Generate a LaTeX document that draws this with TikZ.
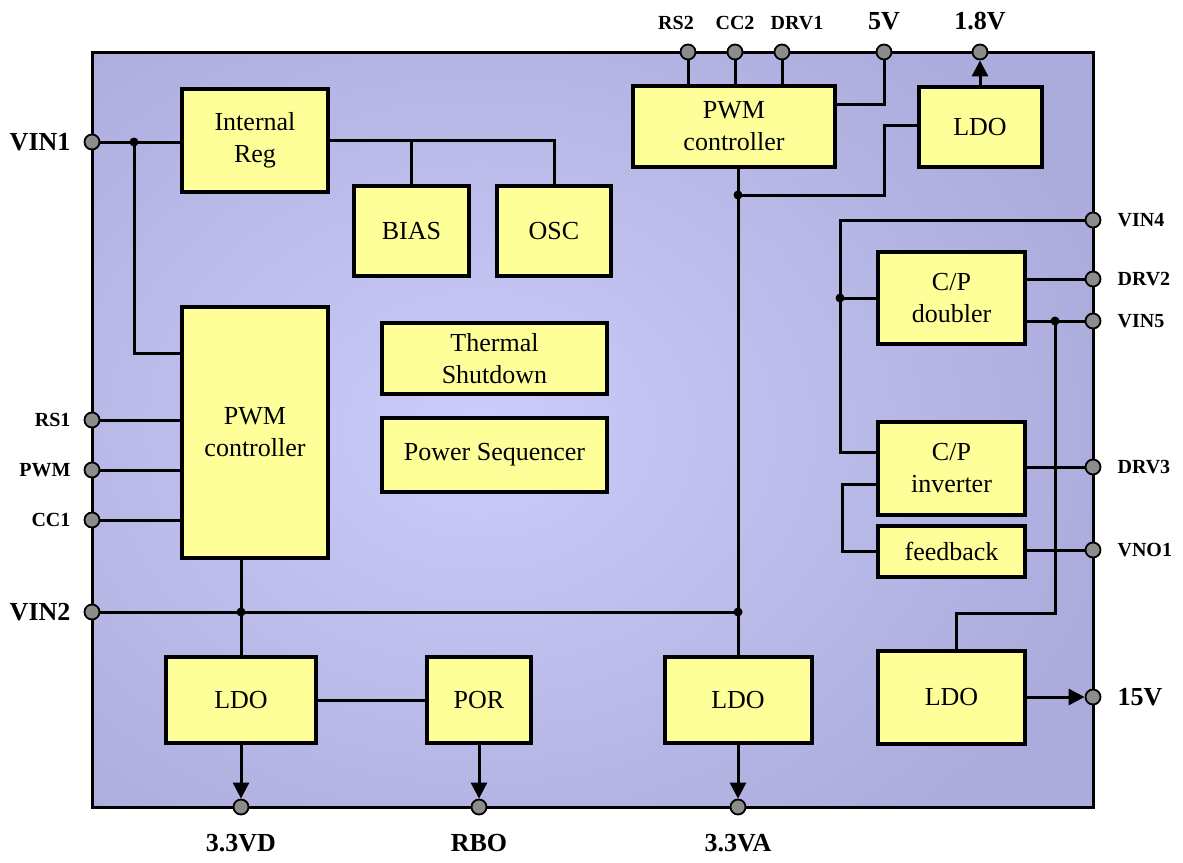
\documentclass[tikz,border=0pt]{standalone}
\usepackage{fontspec}
\setmainfont{Liberation Serif}
\usetikzlibrary{positioning,arrows.meta}

\definecolor{chipedge}{RGB}{172,172,220}
\definecolor{chipmid}{RGB}{204,204,250}
\definecolor{blkfill}{RGB}{255,255,153}
\definecolor{pingray}{RGB}{140,140,140}

\tikzset{
	blk/.style={draw, fill=blkfill, line width=4pt, inner sep=0pt, align=center, font=\fontsize{26}{32}\selectfont},
	pinc/.style={circle, draw, fill=pingray, line width=1.8pt, minimum size=15pt, inner sep=0pt},
	jdot/.style={circle, fill=black, minimum size=9pt, inner sep=0pt},
	wire/.style={line width=3pt},
	arr/.style={wire, -{Triangle[length=16pt,width=16pt]}},
	bigl/.style={font=\bfseries\fontsize{26}{30}\selectfont, inner sep=0pt},
	smll/.style={font=\bfseries\fontsize{20}{24}\selectfont, inner sep=0pt},
}

\begin{document}
\begin{tikzpicture}[x=1pt,y=-1pt]
			\useasboundingbox (0,0) rectangle (1183,862);
			% chip body
			\begin{scope}
				\clip (92,52) rectangle (1093,807);
				\shade[inner color=chipmid, outer color=chipedge] (-170,-90) rectangle (1130,950);
			\end{scope}
			\draw [wire] (92,52) rectangle (1093,807);
			% blocks
			\node [blk, minimum width=146pt, minimum height=103pt] (ireg) at (255,140) {Internal\\Reg};
			\node [blk, minimum width=115pt, minimum height=90pt] (bias) at (411.5,231) {BIAS};
			\node [blk, minimum width=114pt, minimum height=90pt] (osc) at (554,231) {OSC};
			\node [blk, minimum width=146pt, minimum height=251pt] (pwml) at (255,432) {PWM\\controller};
			\node [blk, minimum width=225pt, minimum height=71pt] (therm) at (494.5,358.5) {Thermal\\Shutdown};
			\node [blk, minimum width=225pt, minimum height=74pt] (pseq) at (494.5,455) {Power Sequencer};
			\node [blk, minimum width=202pt, minimum height=81pt] (pwmt) at (734,126.5) {PWM\\controller};
			\node [blk, minimum width=123pt, minimum height=80pt] (ldot) at (980,127) {LDO};
			\node [blk, minimum width=147pt, minimum height=92pt] (cpd) at (951.5,298) {C/P\\doubler};
			\node [blk, minimum width=147pt, minimum height=93pt] (cpi) at (951.5,468.5) {C/P\\inverter};
			\node [blk, minimum width=147pt, minimum height=51pt] (fdbk) at (951.5,551.5) {feedback};
			\node [blk, minimum width=147pt, minimum height=93pt] (ldor) at (951.5,697) {LDO};
			\node [blk, minimum width=150pt, minimum height=86pt] (ldol) at (241,700) {LDO};
			\node [blk, minimum width=104pt, minimum height=86pt] (por) at (479,700) {POR};
			\node [blk, minimum width=147pt, minimum height=86pt] (ldom) at (738,700) {LDO};
			% pins, left side
			\node [pinc] (pvin1) at (92,142) {};
			\node [pinc] (prs1) at (92,420) {};
			\node [pinc] (ppwm) at (92,470) {};
			\node [pinc] (pcc1) at (92,520) {};
			\node [pinc] (pvin2) at (92,612) {};
			% pins, top side
			\node [pinc] (prs2) at (688,52) {};
			\node [pinc] (pcc2) at (735,52) {};
			\node [pinc] (pdrv1) at (782,52) {};
			\node [pinc] (p5v) at (884,52) {};
			\node [pinc] (p18v) at (980,52) {};
			% pins, right side
			\node [pinc] (pvin4) at (1093,220) {};
			\node [pinc] (pdrv2) at (1093,279) {};
			\node [pinc] (pvin5) at (1093,321) {};
			\node [pinc] (pdrv3) at (1093,467) {};
			\node [pinc] (pvno1) at (1093,550) {};
			\node [pinc] (p15v) at (1093,697) {};
			% pins, bottom side
			\node [pinc] (p33vd) at (241,807) {};
			\node [pinc] (prbo) at (479,807) {};
			\node [pinc] (p33va) at (738,807) {};
			% pin labels
			\node [bigl, left=13pt of pvin1] (tvin1) {VIN1};
			\node [smll, left=13pt of prs1] (trs1) {RS1};
			\node [smll, left=13pt of ppwm] (tpwm) {PWM};
			\node [smll, left=13pt of pcc1] (tcc1) {CC1};
			\node [bigl, left=13pt of pvin2] (tvin2) {VIN2};
			\node [smll, above=14pt of prs2, xshift=-12pt] (trs2) {RS2};
			\node [smll, above=14pt of pcc2] (tcc2) {CC2};
			\node [smll, above=14pt of pdrv1, xshift=15pt] (tdrv1) {DRV1};
			\node [bigl, above=14pt of p5v] (t5v) {5V};
			\node [bigl, above=14pt of p18v] (t18v) {1.8V};
			\node [smll, right=16pt of pvin4] (tvin4) {VIN4};
			\node [smll, right=16pt of pdrv2] (tdrv2) {DRV2};
			\node [smll, right=16pt of pvin5] (tvin5) {VIN5};
			\node [smll, right=16pt of pdrv3] (tdrv3) {DRV3};
			\node [smll, right=16pt of pvno1] (tvno1) {VNO1};
			\node [bigl, right=16pt of p15v] (t15v) {15V};
			\node [bigl, below=19pt of p33vd] (t33vd) {3.3VD};
			\node [bigl, below=19pt of prbo] (trbo) {RBO};
			\node [bigl, below=19pt of p33va] (t33va) {3.3VA};
			% junctions
			\node [jdot] (ja) at (134,142) {};
			\node [jdot] (jb) at (241,612) {};
			\node [jdot] (jc) at (738,612) {};
			\node [jdot] (jd) at (738,195) {};
			\node [jdot] (je) at (840,298) {};
			\node [jdot] (jf) at (1055,321) {};
			\coordinate (kreg) at (134,353);
			\coordinate (kldo) at (884,125);
			\coordinate (kbus) at (840,452);
			\coordinate (kfb) at (842,484);
			\coordinate (kr) at (956,613);
			% wires, left half
			\draw [wire] (pvin1) -- (pvin1 -| ireg.west);
			\draw [wire] (ja.center) -- (kreg) -- (kreg -| pwml.west);
			\draw [wire] (ireg.east) -| (osc.north);
			\draw [wire] (bias.north) -- (bias.north |- ireg.east);
			\draw [wire] (prs1) -- (prs1 -| pwml.west);
			\draw [wire] (ppwm) -- (ppwm -| pwml.west);
			\draw [wire] (pcc1) -- (pcc1 -| pwml.west);
			\draw [wire] (ldol.north) -- (ldol.north |- pwml.south);
			\draw [wire] (pvin2) -- (jc.center);
			\draw [wire] (ldol) -- (por);
			\draw [arr] (ldol.south) -- (p33vd);
			\draw [arr] (por.south) -- (prbo);
			% wires, top
			\draw [wire] (prs2) -- (prs2 |- pwmt.north);
			\draw [wire] (pcc2) -- (pcc2 |- pwmt.north);
			\draw [wire] (pdrv1) -- (pdrv1 |- pwmt.north);
			\draw [wire] (p5v) |- ([yshift=22pt]pwmt.east);
			\draw [wire] (ldom.north) -- (ldom.north |- pwmt.south);
			\draw [wire] (jd.center) -| (kldo) -- (kldo -| ldot.west);
			\draw [arr] (ldot.north) -- (p18v);
			\draw [arr] (ldom.south) -- (p33va);
			% wires, right
			\draw [wire] (pvin4) -| (kbus) -- (kbus -| cpi.west);
			\draw [wire] (je.center) -- (je -| cpd.west);
			\draw [wire] (pdrv2) -- (pdrv2 -| cpd.east);
			\draw [wire] (pvin5) -- (pvin5 -| cpd.east);
			\draw [wire] (jf.center) |- (kr) -- (kr |- ldor.north);
			\draw [wire] (pdrv3) -- (pdrv3 -| cpi.east);
			\draw [wire] (kfb -| cpi.west) -- (kfb) |- (fdbk.west);
			\draw [wire] (pvno1) -- (pvno1 -| fdbk.east);
			\draw [arr] (ldor.east |- p15v) -- (p15v);
		\end{tikzpicture}
\end{document}
